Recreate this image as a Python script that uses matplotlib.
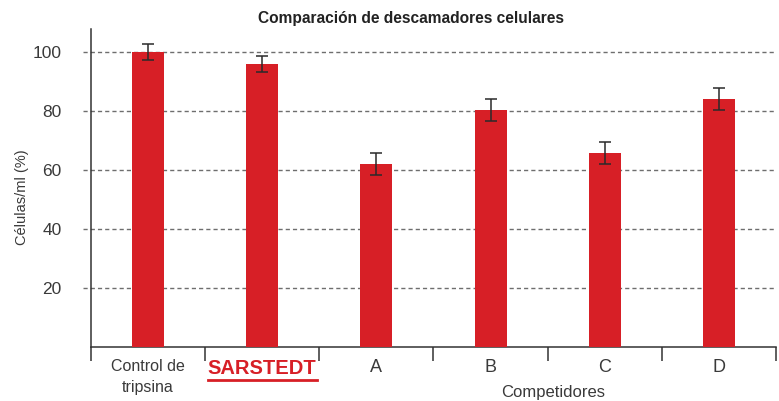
import matplotlib
matplotlib.use("Agg")
import matplotlib.pyplot as plt
from matplotlib.lines import Line2D
import numpy as np

# cell counts relative to the trypsin control
categories = ["Control de\ntripsina", "SARSTEDT", "A", "B", "C", "D"]
values = [100.0, 95.8, 61.9, 80.2, 65.7, 84.0]
errors = [2.7, 2.7, 3.6, 3.7, 3.6, 3.6]

red = "#d71f26"
text_col = "#3a3a3a"

plt.rcParams["font.family"] = ["Liberation Sans", "DejaVu Sans"]

fig = plt.figure(figsize=(7.79, 4.01), dpi=100)
ax = fig.add_axes([91 / 779, 1 - 346.7 / 401, 685 / 779, 317.7 / 401])

x = np.arange(len(categories))
ax.bar(x, values, width=0.28, color=red, zorder=3)
ax.errorbar(x, values, yerr=errors, fmt="none", ecolor="#2a2a2a",
            elinewidth=1.1, capsize=4.5, capthick=1.1, zorder=4)

ax.set_xlim(-0.5, len(categories) - 0.5)
ax.set_ylim(0, 107.7)

# dashed guide lines, poking slightly left of the y axis
yt = [20, 40, 60, 80, 100]
for y in yt:
    ax.plot([-0.012, 1], [y, y], transform=ax.get_yaxis_transform(),
            color="#6e6e6e", lw=1.0, ls=(0, (3, 2.2)), clip_on=False, zorder=1)

ax.set_yticks(yt)
ax.set_yticklabels([str(v) for v in yt], fontsize=12.5, color=text_col)
ax.tick_params(axis="y", length=0, pad=21)

ax.set_xticks(x)
ax.set_xticklabels(categories, fontsize=11.5, color=text_col, linespacing=1.45)
ax.set_xticks(np.arange(-0.5, len(categories)), minor=True)
ax.tick_params(axis="x", which="major", length=0, pad=9)
ax.tick_params(axis="x", which="minor", length=10, width=1.1, color="#333333")

labels = ax.get_xticklabels()
for i, lab in enumerate(labels):
    if categories[i] == "SARSTEDT":
        lab.set_color(red)
        lab.set_fontsize(14.5)
        lab.set_fontweight("bold")
    elif i >= 2:
        lab.set_fontsize(13)

for side in ["top", "right"]:
    ax.spines[side].set_visible(False)
for side in ["left", "bottom"]:
    ax.spines[side].set_color("#333333")
    ax.spines[side].set_linewidth(1.1)

ax.set_ylabel("Células/ml (%)", fontsize=10.5, color=text_col)
ax.yaxis.set_label_coords(-0.091, 0.47)

ax.text(3.55, -0.145, "Competidores", transform=ax.get_xaxis_transform(),
        ha="center", va="center", fontsize=12, color=text_col)

fig.text(411 / 779, 1 - 18 / 401, "Comparación de descamadores celulares",
         ha="center", va="center", fontsize=11.2, fontweight="bold",
         color="#222222")

# red underline below the SARSTEDT label
fig.canvas.draw()
renderer = fig.canvas.get_renderer()
for lab in ax.get_xticklabels():
    if lab.get_text() == "SARSTEDT":
        bb = lab.get_window_extent(renderer)
        yline = bb.y0 - 2
        fig.add_artist(Line2D([bb.x0 / fig.bbox.width, bb.x1 / fig.bbox.width],
                              [yline / fig.bbox.height, yline / fig.bbox.height],
                              color=red, lw=2.0))

fig.savefig("out.png", dpi=100)
